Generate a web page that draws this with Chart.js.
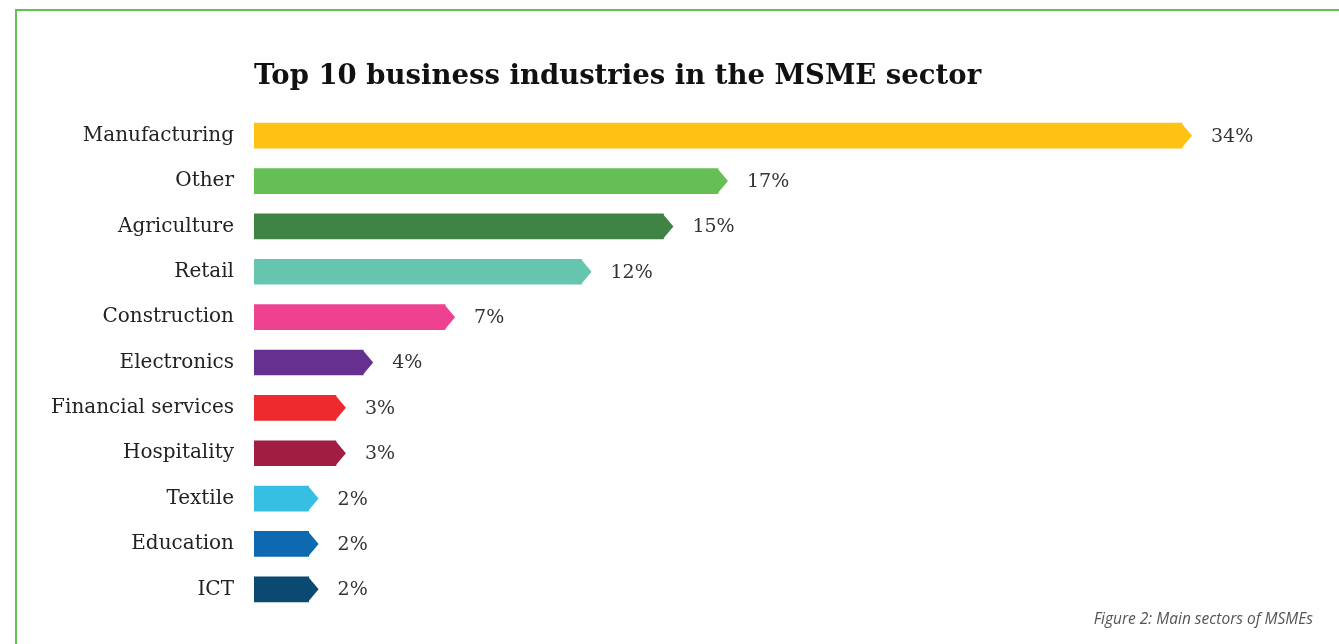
<!DOCTYPE html>
<html>
<head>
<meta charset="utf-8">
<title>MSME sectors</title>
<script src="https://cdn.jsdelivr.net/npm/chart.js@4/dist/chart.umd.min.js"></script>
<style>
    html, body {
        margin: 0;
        padding: 0;
        background: #ffffff;
        overflow: hidden;
    }
    .frame {
        position: absolute;
        left: 15px;
        top: 9px;
        width: 1339px;
        height: 700px;
        border-left: 2px solid #62c150;
        border-top: 2px solid #62c150;
    }
    #sectorChart {
        position: absolute;
        left: 0;
        top: 0;
    }
</style>
</head>
<body>
<div class="frame"></div>
<canvas id="sectorChart" width="1339" height="644"></canvas>

<script>
// ===============================
// DATA
// ===============================

const sectors = [
    "Manufacturing", "Other", "Agriculture", "Retail", "Construction",
    "Electronics", "Financial services", "Hospitality", "Textile", "Education", "ICT"
];

const shares = [34, 17, 15, 12, 7, 4, 3, 3, 2, 2, 2];

const barColors = [
    "#ffc114", "#66bf55", "#3f8445", "#66c5ae", "#ee4190",
    "#663090", "#ee2a2e", "#a11d42", "#36bfe3", "#0d69b0", "#0b4a70"
];

const TIP = 10;

// ===============================
// ARROW TIPS + VALUE LABELS
// ===============================

const arrowTips = {
    id: "arrowTips",
    afterDatasetsDraw: function (chart) {
        const ctx = chart.ctx;
        const meta = chart.getDatasetMeta(0);

        ctx.save();
        meta.data.forEach(function (bar, i) {
            const half = bar.height / 2;

            ctx.fillStyle = barColors[i];
            ctx.beginPath();
            ctx.moveTo(bar.x - 0.5, bar.y - half);
            ctx.lineTo(bar.x + TIP, bar.y);
            ctx.lineTo(bar.x - 0.5, bar.y + half);
            ctx.closePath();
            ctx.fill();

            ctx.fillStyle = "#333333";
            ctx.font = "19px 'DejaVu Serif'";
            ctx.textAlign = "left";
            ctx.textBaseline = "middle";
            ctx.fillText(shares[i] + "%", bar.x + TIP + 19, bar.y + 1);
        });
        ctx.restore();
    }
};

// ===============================
// CHART
// ===============================

new Chart(document.getElementById("sectorChart"), {
    type: "bar",
    data: {
        labels: sectors,
        datasets: [
            {
                data: shares,
                backgroundColor: barColors,
                borderWidth: 0,
                barThickness: 25
            }
        ]
    },
    plugins: [arrowTips],
    options: {
        indexAxis: "y",
        responsive: false,
        animation: false,
        devicePixelRatio: 1,
        layout: {
            padding: { top: 52, right: 26, bottom: 10, left: 0 }
        },
        plugins: {
            legend: { display: false },
            tooltip: { enabled: false },
            title: {
                display: true,
                text: "Top 10 business industries in the MSME sector",
                align: "start",
                fullSize: false,
                color: "#111111",
                font: { family: "'DejaVu Serif'", size: 27.5, weight: "bold" },
                padding: { top: 8, bottom: 20 }
            },
            subtitle: {
                display: true,
                position: "bottom",
                align: "end",
                text: "Figure 2: Main sectors of MSMEs",
                color: "#555555",
                font: { family: "'Open Sans'", size: 15.5, style: "italic", lineHeight: 1 },
                padding: { top: 0, bottom: 0 }
            }
        },
        scales: {
            x: {
                display: false,
                min: 0,
                max: 38.8
            },
            y: {
                grid: { display: false, drawTicks: false },
                border: { display: false },
                afterFit: function (scale) {
                    scale.width = 254;
                },
                ticks: {
                    color: "#222222",
                    padding: 20,
                    font: { family: "'DejaVu Serif'", size: 20 }
                }
            }
        }
    }
});
</script>
</body>
</html>
